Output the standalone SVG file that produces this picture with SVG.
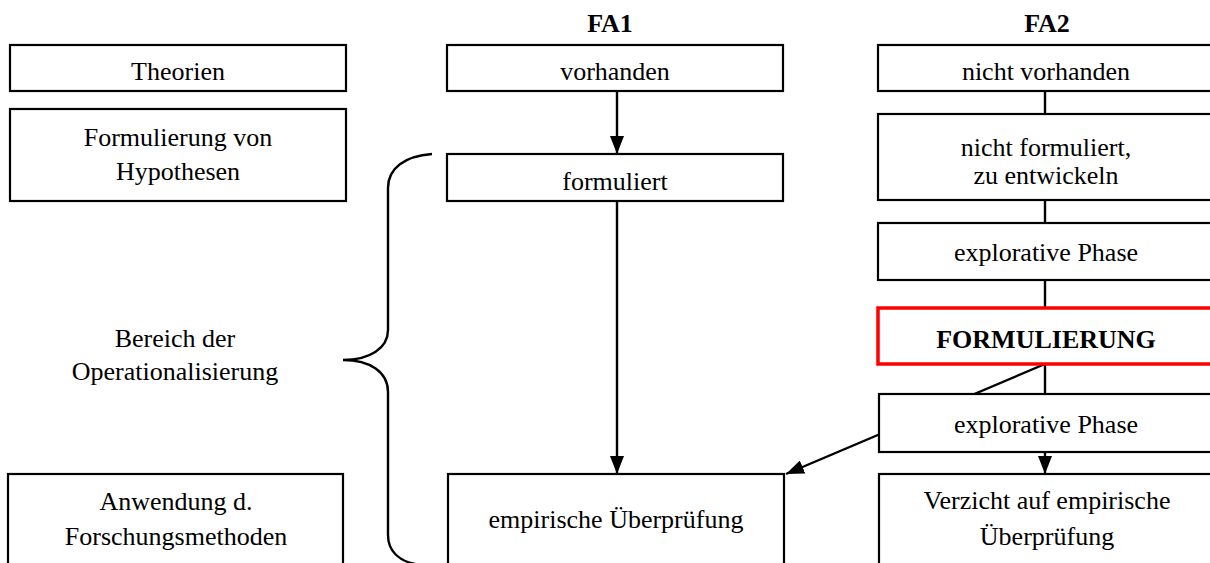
<svg xmlns="http://www.w3.org/2000/svg" width="1210" height="563" viewBox="0 0 1210 563">
  <defs>
    <marker id="arrow" viewBox="0 0 18 14" refX="18" refY="7" markerWidth="18" markerHeight="14" markerUnits="userSpaceOnUse" orient="auto">
      <path d="M0,0 L18,7 L0,14 Z" fill="#000"/>
    </marker>
    <style>
      .box { fill: #fff; stroke: #000; stroke-width: 2.2; }
      .hot { fill: #fff; stroke: #ff0000; stroke-width: 3.5; }
      .t { font-family: "Liberation Serif", "Times New Roman", serif; font-size: 26px; fill: #000; text-anchor: middle; }
      .b { font-weight: bold; }
      .line { stroke: #000; stroke-width: 2.4; fill: none; }
    </style>
  </defs>
  <rect width="1210" height="563" fill="#fff"/>

  <!-- column headings -->
  <text class="t b" x="610" y="32">FA1</text>
  <text class="t b" x="1047" y="32">FA2</text>

  <!-- connectors (drawn first so boxes sit on top) -->
  <g id="connectors">
    <line class="line" x1="617" y1="91" x2="617" y2="154" marker-end="url(#arrow)"/>
    <line class="line" x1="617" y1="201" x2="617" y2="474" marker-end="url(#arrow)"/>
    <line class="line" x1="1045" y1="91" x2="1045" y2="114"/>
    <line class="line" x1="1045" y1="200" x2="1045" y2="223"/>
    <line class="line" x1="1045" y1="280" x2="1045" y2="308"/>
    <line class="line" x1="1045" y1="364" x2="1045" y2="394"/>
    <line class="line" x1="1045" y1="364" x2="786" y2="474" marker-end="url(#arrow)"/>
    <line class="line" x1="1045" y1="452" x2="1045" y2="474" marker-end="url(#arrow)"/>
  </g>

  <!-- left column -->
  <g id="theorien">
    <rect class="box" x="10" y="45" width="336" height="46"/>
    <text class="t" x="178" y="80">Theorien</text>
  </g>
  <g id="hypothesen">
    <rect class="box" x="10" y="109" width="336" height="92"/>
    <text class="t" x="178" y="146">Formulierung von</text>
    <text class="t" x="178" y="180">Hypothesen</text>
  </g>
  <g id="operationalisierung">
    <text class="t" x="175" y="347">Bereich der</text>
    <text class="t" x="175" y="380">Operationalisierung</text>
    <path class="line" d="M432,154 C405,156 388,168 388,188 L388,330 C388,348 370,360 343,360 C370,360 388,372 388,392 L388,535 C388,552 400,561 415,564"/>
  </g>
  <g id="methoden">
    <rect class="box" x="8" y="474" width="335" height="100"/>
    <text class="t" x="176" y="510">Anwendung d.</text>
    <text class="t" x="176" y="545">Forschungsmethoden</text>
  </g>

  <!-- FA1 column -->
  <g id="fa1-vorhanden">
    <rect class="box" x="447" y="45" width="336" height="46"/>
    <text class="t" x="615" y="80">vorhanden</text>
  </g>
  <g id="fa1-formuliert">
    <rect class="box" x="447" y="154" width="336" height="47"/>
    <text class="t" x="615" y="190">formuliert</text>
  </g>
  <g id="fa1-ueberpruefung">
    <rect class="box" x="448" y="474" width="336" height="100"/>
    <text class="t" x="616" y="528">empirische Überprüfung</text>
  </g>

  <!-- FA2 column -->
  <g id="fa2-nicht-vorhanden">
    <rect class="box" x="878" y="45" width="340" height="46"/>
    <text class="t" x="1046" y="80">nicht vorhanden</text>
  </g>
  <g id="fa2-nicht-formuliert">
    <rect class="box" x="878" y="114" width="340" height="86"/>
    <text class="t" x="1046" y="156">nicht formuliert,</text>
    <text class="t" x="1046" y="184">zu entwickeln</text>
  </g>
  <g id="fa2-explorativ-1">
    <rect class="box" x="878" y="223" width="340" height="57"/>
    <text class="t" x="1046" y="261">explorative Phase</text>
  </g>
  <g id="fa2-formulierung">
    <rect class="hot" x="878" y="308" width="340" height="56"/>
    <text class="t b" x="1046" y="348">FORMULIERUNG</text>
  </g>
  <g id="fa2-explorativ-2">
    <rect class="box" x="879" y="394" width="340" height="58"/>
    <text class="t" x="1046" y="433">explorative Phase</text>
  </g>
  <g id="fa2-verzicht">
    <rect class="box" x="879" y="474" width="340" height="100"/>
    <text class="t" x="1047" y="509">Verzicht auf empirische</text>
    <text class="t" x="1047" y="545">Überprüfung</text>
  </g>
</svg>
